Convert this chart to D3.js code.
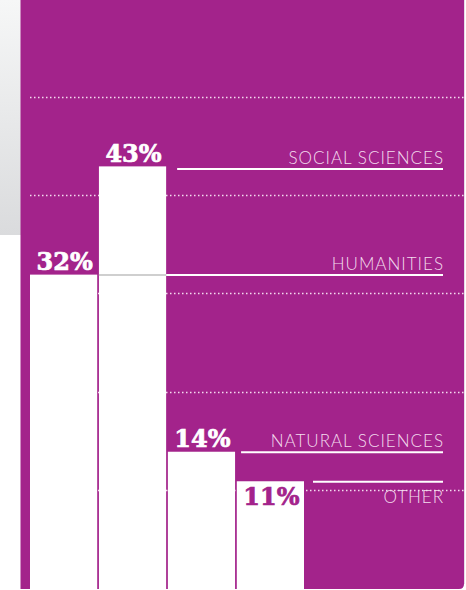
<!DOCTYPE html>
<html>
<head>
<meta charset="utf-8">
<script src="https://cdn.jsdelivr.net/npm/d3@7"></script>
<style>
  body { margin: 0; background: #fff; }
  .cat { font-family: Lato, "Open Sans", sans-serif; font-weight: 300; font-size: 17px; letter-spacing: 1px; fill: #f3dcee; }
  .pct { font-family: "DejaVu Serif", serif; font-weight: bold; font-size: 24px; stroke-width: 0.7px; }
</style>
</head>
<body>
<div id="chart"></div>
<script>
const categories = ["Humanities", "Social Sciences", "Natural Sciences", "Other"];
const shares = [32, 43, 14, 11];
const gridTicks = [10, 20, 30, 40, 50];

const width = 466, height = 590;
const purple = "#a3238b";

const svg = d3.select("#chart").append("svg")
    .attr("width", width)
    .attr("height", height);

// grey side panel on the left
const defs = svg.append("defs");
const grad = defs.append("linearGradient")
    .attr("id", "side")
    .attr("x1", 0).attr("y1", 0).attr("x2", 0).attr("y2", 1);
grad.append("stop").attr("offset", "0%").attr("stop-color", "#f6f7f7");
grad.append("stop").attr("offset", "100%").attr("stop-color", "#dadbdd");
svg.append("rect")
    .attr("x", 0).attr("y", 0)
    .attr("width", 21).attr("height", 235)
    .attr("fill", "url(#side)");

// purple panel, rounded bottom-right corner
svg.append("path")
    .attr("d", "M20.5,0 H464 V584 Q464,589 459,589 H20.5 Z")
    .attr("fill", purple);
svg.append("line")
    .attr("x1", 464.5).attr("x2", 464.5).attr("y1", 0).attr("y2", 584)
    .attr("stroke", "#e8dde6").attr("stroke-width", 1);

const x = d3.scaleBand()
    .domain(categories)
    .range([30, 304])
    .paddingInner(0.025)
    .paddingOuter(0);

const y = d3.scaleLinear()
    .domain([0, 50])
    .range([589.5, 97.5]);

// dotted gridlines
svg.append("g")
    .selectAll("line")
    .data(gridTicks)
    .enter().append("line")
    .attr("x1", 30)
    .attr("x2", 465)
    .attr("y1", d => Math.round(y(d)) - 0.5)
    .attr("y2", d => Math.round(y(d)) - 0.5)
    .attr("stroke", "#f4dcef")
    .attr("stroke-width", 1.3)
    .attr("stroke-dasharray", "1.5,2.5");

// bars
svg.append("g")
    .selectAll("rect")
    .data(categories)
    .enter().append("rect")
    .attr("x", d => x(d))
    .attr("y", (d, i) => y(shares[i]))
    .attr("width", x.bandwidth())
    .attr("height", (d, i) => height - y(shares[i]))
    .attr("fill", "#fff");

// leader lines + category names
const lineEnd = 443;
const lineStart = [x(categories[1]), x(categories[1]) + x.bandwidth() + 11,
                   x(categories[2]) + x.bandwidth() + 6, x(categories[3]) + x.bandwidth() + 9];
const leaders = svg.append("g");
categories.forEach((c, i) => {
    const ly = y(shares[i]) + (i === 1 ? 2.5 : 0.5);
    if (i === 0) {
        // part that runs over the taller bar is grey
        leaders.append("line")
            .attr("x1", x(categories[1])).attr("x2", x(categories[1]) + x.bandwidth())
            .attr("y1", ly).attr("y2", ly)
            .attr("stroke", "#cfcfcf").attr("stroke-width", 2);
        leaders.append("line")
            .attr("x1", x(categories[1]) + x.bandwidth()).attr("x2", lineEnd)
            .attr("y1", ly).attr("y2", ly)
            .attr("stroke", "#fff").attr("stroke-width", 2);
    } else {
        leaders.append("line")
            .attr("x1", lineStart[i]).attr("x2", lineEnd)
            .attr("y1", ly).attr("y2", ly)
            .attr("stroke", "#fff").attr("stroke-width", 2);
    }
    leaders.append("text")
        .attr("class", "cat")
        .attr("x", lineEnd + 1)
        .attr("y", i === 3 ? ly + 21.5 : ly - 5)
        .attr("text-anchor", "end")
        .text(c.toUpperCase());
});

// percentage labels
svg.append("g")
    .selectAll("text")
    .data(categories)
    .enter().append("text")
    .attr("class", "pct")
    .attr("x", d => x(d) + x.bandwidth() / 2 + 1)
    .attr("y", (d, i) => i === 3 ? y(shares[i]) + 24 : y(shares[i]) - 4.5)
    .attr("text-anchor", "middle")
    .attr("fill", (d, i) => i === 3 ? purple : "#fff")
    .attr("stroke", (d, i) => i === 3 ? purple : "#fff")
    .text((d, i) => shares[i] + "%");
</script>
</body>
</html>
